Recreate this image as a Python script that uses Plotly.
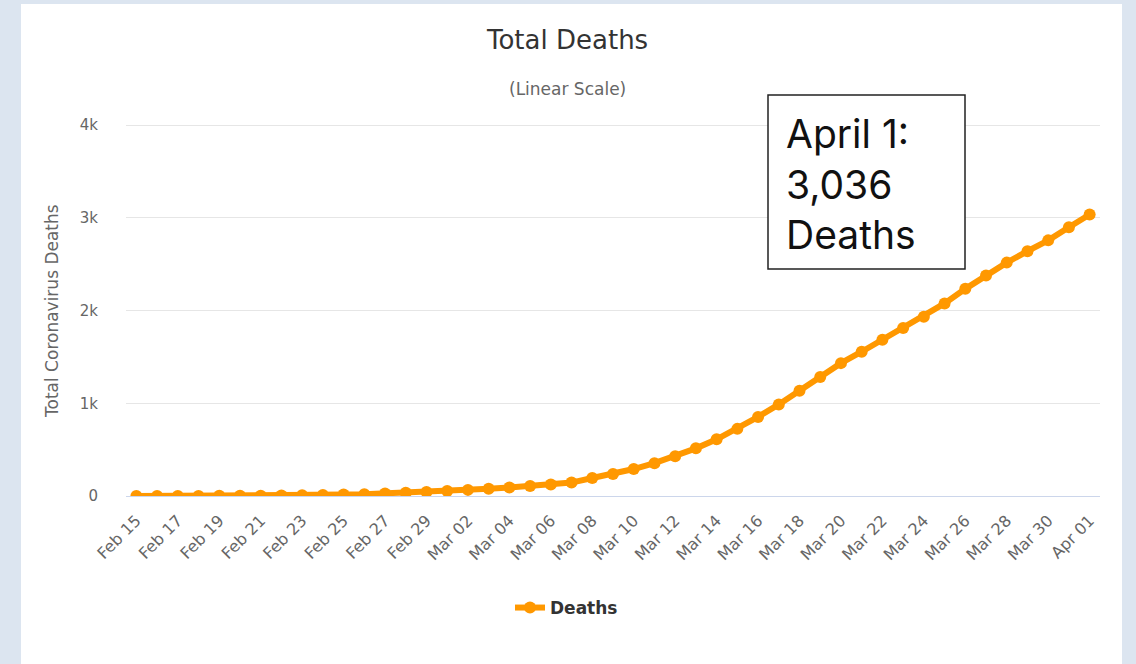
import plotly.graph_objects as go

dates = ["Feb 15", "Feb 16", "Feb 17", "Feb 18", "Feb 19", "Feb 20", "Feb 21", "Feb 22",
         "Feb 23", "Feb 24", "Feb 25", "Feb 26", "Feb 27", "Feb 28", "Feb 29",
         "Mar 01", "Mar 02", "Mar 03", "Mar 04", "Mar 05", "Mar 06", "Mar 07", "Mar 08",
         "Mar 09", "Mar 10", "Mar 11", "Mar 12", "Mar 13", "Mar 14", "Mar 15", "Mar 16",
         "Mar 17", "Mar 18", "Mar 19", "Mar 20", "Mar 21", "Mar 22", "Mar 23", "Mar 24",
         "Mar 25", "Mar 26", "Mar 27", "Mar 28", "Mar 29", "Mar 30", "Mar 31", "Apr 01"]
deaths = [0, 0, 0, 0, 2, 2, 4, 5, 8, 12, 16, 19, 26, 34, 43,
          54, 66, 77, 92, 107, 124, 145, 194, 237, 291, 354, 429, 514, 611, 724, 853,
          988, 1135, 1284, 1433, 1556, 1685, 1812, 1934, 2077, 2234, 2378, 2517, 2640,
          2757, 2898, 3036]
tick_labels = dates[::2]
y_ticks = [0, 1000, 2000, 3000, 4000]
y_tick_text = ["0", "1k", "2k", "3k", "4k"]

FONT = "DejaVu Sans"
ORANGE = "#ff9800"
BG = "#dce5f0"

fig = go.Figure()
fig.add_trace(go.Scatter(
    x=dates, y=deaths, mode="lines+markers", name="Deaths",
    line=dict(color=ORANGE, width=6),
    marker=dict(color=ORANGE, size=12),
))

L, R, T, B = 126, 36, 124, 168
W, H = 1136, 664
pw, ph = W - L - R, H - T - B
YMAX = 4012

def px2x(px):
    return (px - L) / pw

def py2y(py):
    return (H - B - py) / ph

fig.update_layout(
    width=W, height=H,
    margin=dict(l=L, r=R, t=T, b=B, pad=0),
    paper_bgcolor=BG,
    plot_bgcolor="white",
    showlegend=True,
    font=dict(family=FONT, color="#666666"),
    xaxis=dict(
        type="category", range=[-0.5, len(dates) - 0.5],
        tickmode="array", tickvals=tick_labels, ticktext=tick_labels,
        tickangle=-45, tickfont=dict(size=16, color="#666666"),
        ticklabelstandoff=8,
        showgrid=False, showline=True, linecolor="#ccd6eb", linewidth=1,
        ticks="", zeroline=False,
    ),
    yaxis=dict(
        range=[0, YMAX], tickvals=y_ticks, ticktext=y_tick_text,
        tickfont=dict(size=15, color="#666666"),
        gridcolor="#e6e6e6", gridwidth=1, zeroline=False, showline=False,
        ticks="outside", ticklen=24, tickcolor="rgba(0,0,0,0)",
    ),
    legend=dict(
        orientation="h", x=px2x(510), y=py2y(608), xanchor="left", yanchor="middle",
        font=dict(size=17, color="#333333", family=FONT, weight=700),
        bgcolor="rgba(0,0,0,0)", itemwidth=30,
    ),
    shapes=[
        dict(type="rect", xref="paper", yref="paper",
             x0=px2x(21), x1=px2x(1122), y0=py2y(664), y1=py2y(4),
             fillcolor="white", line=dict(width=0), layer="below"),
        dict(type="rect", xref="paper", yref="paper",
             x0=px2x(768), x1=px2x(965), y0=py2y(269), y1=py2y(95),
             fillcolor="white", line=dict(color="#222222", width=1.5), layer="above"),
    ],
    annotations=[
        dict(text="Total Deaths", xref="paper", yref="paper", x=px2x(567), y=py2y(40),
             xanchor="center", yanchor="middle", showarrow=False,
             font=dict(size=26, color="#333333", family=FONT)),
        dict(text="(Linear Scale)", xref="paper", yref="paper", x=px2x(567), y=py2y(89),
             xanchor="center", yanchor="middle", showarrow=False,
             font=dict(size=17, color="#666666", family=FONT)),
        dict(text="Total Coronavirus Deaths", xref="paper", yref="paper",
             x=px2x(52), y=py2y(311), xanchor="center", yanchor="middle",
             textangle=-90, showarrow=False,
             font=dict(size=17, color="#666666", family=FONT)),
        dict(text="April 1:<br>3,036<br>Deaths", xref="paper", yref="paper",
             x=px2x(784), y=py2y(184), xanchor="left", yanchor="middle", align="left",
             showarrow=False, font=dict(size=39, color="#111111", family="Inter")),
    ],
)

fig.write_html(
    "out.html",
    config={"displayModeBar": False},
    post_script="document.body.style.margin='0px';document.body.style.background='%s';" % BG,
)
